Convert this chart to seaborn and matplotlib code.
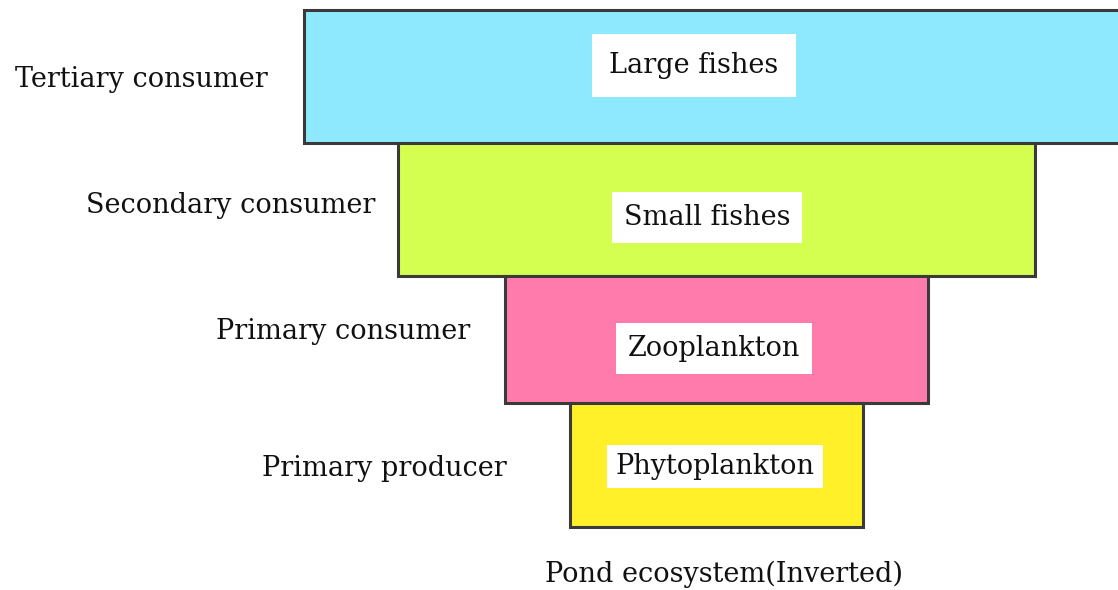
import matplotlib
matplotlib.use("Agg")
import matplotlib.pyplot as plt
import seaborn as sns

# trophic levels, top of the inverted pyramid first
levels = ["Tertiary consumer", "Secondary consumer", "Primary consumer", "Primary producer"]
organisms = ["Large fishes", "Small fishes", "Zooplankton", "Phytoplankton"]
widths = [824, 637, 423, 293]
colors = ["#8EE9FE", "#D4FF50", "#FF7BAC", "#FFF02A"]
caption = "Pond ecosystem(Inverted)"

sns.set_theme(style="white")
plt.rcParams["font.family"] = ["DejaVu Serif"]

fig = plt.figure(figsize=(11.18, 5.9), dpi=100)
ax = fig.add_axes([0, 0, 1, 1])

sns.barplot(x=widths, y=levels, hue=levels, palette=colors, orient="h",
            width=1.0, edgecolor="#3a3a3a", linewidth=2.2, legend=False,
            saturation=1, ax=ax)

px = 129.25  # pixels per category unit
center = 716

# centre the bars so they stack as a pyramid, slightly uneven heights
heights = [133, 133, 126.5, 124.5]
top = -0.5
mids = []
for bar, h in zip(ax.patches, heights):
    bar.set_x(center - bar.get_width() / 2)
    bar.set_y(top)
    bar.set_height(h / px)
    mids.append(top + h / px / 2)
    top += h / px

ax.set_xlim(0, 1118)
ax.set_ylim(3.5 + 63 / px, -0.5 - 10 / px)
ax.axis("off")

gaps = [36, 22, 34, 63]
lab_dy = [3, -4, -8, 4]
org_dx = [-22, -9, -2, -1]
org_dy = [-11, 8, 9, 2]
pads = [0.65, 0.45, 0.45, 0.3]
for i, (lvl, org, w) in enumerate(zip(levels, organisms, widths)):
    ax.text(center - w / 2 - gaps[i], mids[i] + lab_dy[i] / px, lvl,
            ha="right", va="center", fontsize=19.5, color="#111111")
    ax.text(center + org_dx[i], mids[i] + org_dy[i] / px, org,
            ha="center", va="center", fontsize=19.5, color="#111111",
            bbox=dict(boxstyle=f"square,pad={pads[i]}", fc="white", ec="none"))

ax.text(center + 8, 3.5 + 47 / px, caption, ha="center", va="center",
        fontsize=19.5, color="#111111")

fig.savefig("out.png", dpi=100)
